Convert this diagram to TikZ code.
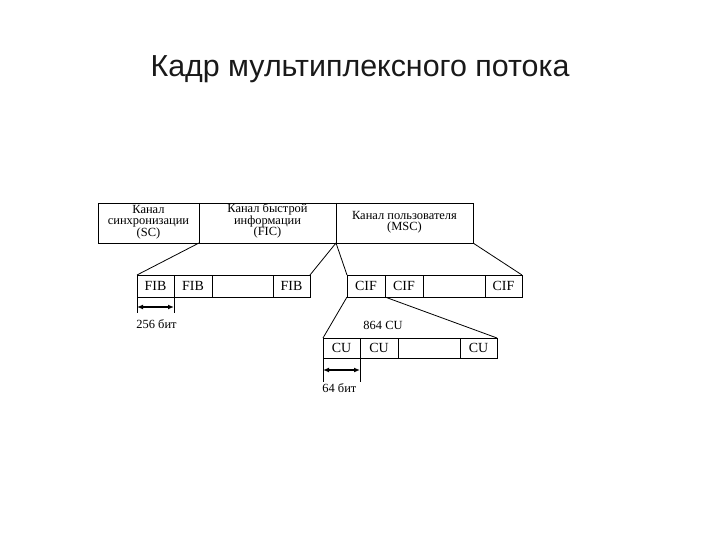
\documentclass[tikz,border=0pt]{standalone}
\usepackage{fontspec}
\setmainfont{Liberation Serif}
\newfontfamily\titlefont{Liberation Sans}
\usetikzlibrary{arrows.meta}
\begin{document}
\begin{tikzpicture}[x=1bp,y=-1bp,line width=0.8bp,
  lbl/.style={font=\fontsize{12.5}{11.5}\selectfont,align=center,inner sep=0pt},
  cell/.style={font=\fontsize{14}{14}\selectfont,inner sep=0pt},
  dim/.style={{Latex[length=6bp,width=5bp]}-{Latex[length=6bp,width=5bp]},line width=1.3bp}]
\useasboundingbox (0,0) rectangle (720,540);
\node[font=\titlefont\fontsize{30.5}{34}\selectfont,text=black!90] (title) at (360,69) {Кадр мультиплексного потока};
% top row
\draw (98,203) rectangle (473,243);
\draw (199,203) -- (199,243) (336,203) -- (336,243);
\node[lbl] (sc) at (148.5,222) {Канал\\синхронизации\\(SC)};
\node[lbl] (fic) at (267.5,221) {Канал быстрой\\информации\\(FIC)};
\node[lbl] (msc) at (404.5,222) {Канал пользователя\\(MSC)};
% FIB row
\draw (137,275) rectangle (310,297);
\foreach \x in {174,212,273} \draw (\x,275) -- (\x,297);
\node[cell] (f1) at (155.5,286) {FIB};
\node[cell] (f2) at (193,286) {FIB};
\node[cell] (f3) at (291.5,286) {FIB};
% CIF row
\draw (347,275) rectangle (522,297);
\foreach \x in {385,423,485} \draw (\x,275) -- (\x,297);
\node[cell] (c1) at (366,286) {CIF};
\node[cell] (c2) at (404,286) {CIF};
\node[cell] (c3) at (503.5,286) {CIF};
% CU row
\draw (323,338) rectangle (497,358);
\foreach \x in {360,398,460} \draw (\x,338) -- (\x,358);
\node[cell] (u1) at (341.5,348) {CU};
\node[cell] (u2) at (379,348) {CU};
\node[cell] (u3) at (478.5,348) {CU};
% fan lines
\draw (199,243) -- (137,275) (336,243) -- (310,275) (336,243) -- (347,275) (473,243) -- (522,275);
\draw (347,297) -- (323,338) (385,297) -- (497,338);
% dimensions
\draw[line width=0.6bp] (137,297) -- (137,313) (174,297) -- (174,313);
\draw[dim] (137,307) -- (174,307);
\node[lbl,anchor=west] (b256) at (136,324) {256 бит};
\node[lbl] (n864) at (383,325) {864 CU};
\draw[line width=0.6bp] (323,358) -- (323,382) (360,358) -- (360,382);
\draw[dim] (323,370) -- (360,370);
\node[lbl,anchor=west] (b64) at (322,388) {64 бит};
\end{tikzpicture}
\end{document}
